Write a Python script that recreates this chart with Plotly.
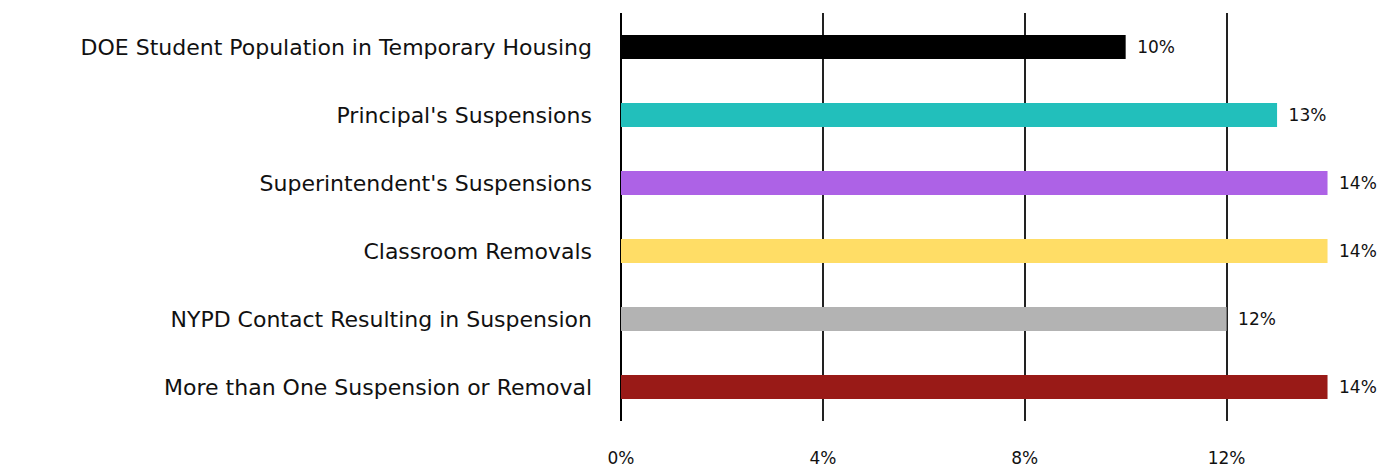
import plotly.graph_objects as go

categories = [
    "DOE Student Population in Temporary Housing",
    "Principal's Suspensions",
    "Superintendent's Suspensions",
    "Classroom Removals",
    "NYPD Contact Resulting in Suspension",
    "More than One Suspension or Removal",
]
values = [10, 13, 14, 14, 12, 14]
colors = ["#000000", "#22BFBB", "#AD62E6", "#FFDD66", "#B3B3B3", "#991A17"]
tick_vals = [0, 4, 8, 12]
tick_text = ["0%", "4%", "8%", "12%"]

FONT = "DejaVu Sans"

fig = go.Figure(
    go.Bar(
        y=categories,
        x=values,
        orientation="h",
        marker=dict(color=colors, line=dict(width=0)),
        width=0.35,
        text=[f"\u2002{v}%" for v in values],
        textposition="outside",
        textfont=dict(size=17, color="#111111", family=FONT),
        cliponaxis=False,
    )
)

fig.update_layout(
    width=1399,
    height=469,
    margin=dict(l=613, r=29, t=5, b=56),
    plot_bgcolor="white",
    paper_bgcolor="white",
    showlegend=False,
    font=dict(family=FONT, color="#111111"),
)
fig.update_xaxes(
    range=[0, 15],
    tickvals=tick_vals,
    ticktext=tick_text,
    showgrid=True,
    gridcolor="#222222",
    gridwidth=1.5,
    zeroline=True,
    zerolinecolor="#000000",
    zerolinewidth=1.5,
    tickfont=dict(size=17),
    ticklabelstandoff=25,
    showline=False,
    automargin=False,
)
fig.update_yaxes(
    categoryorder="array",
    categoryarray=categories[::-1],
    tickfont=dict(size=22),
    ticklabelstandoff=28,
    showgrid=False,
    showline=False,
    automargin=False,
)

fig.write_html("out.html")
